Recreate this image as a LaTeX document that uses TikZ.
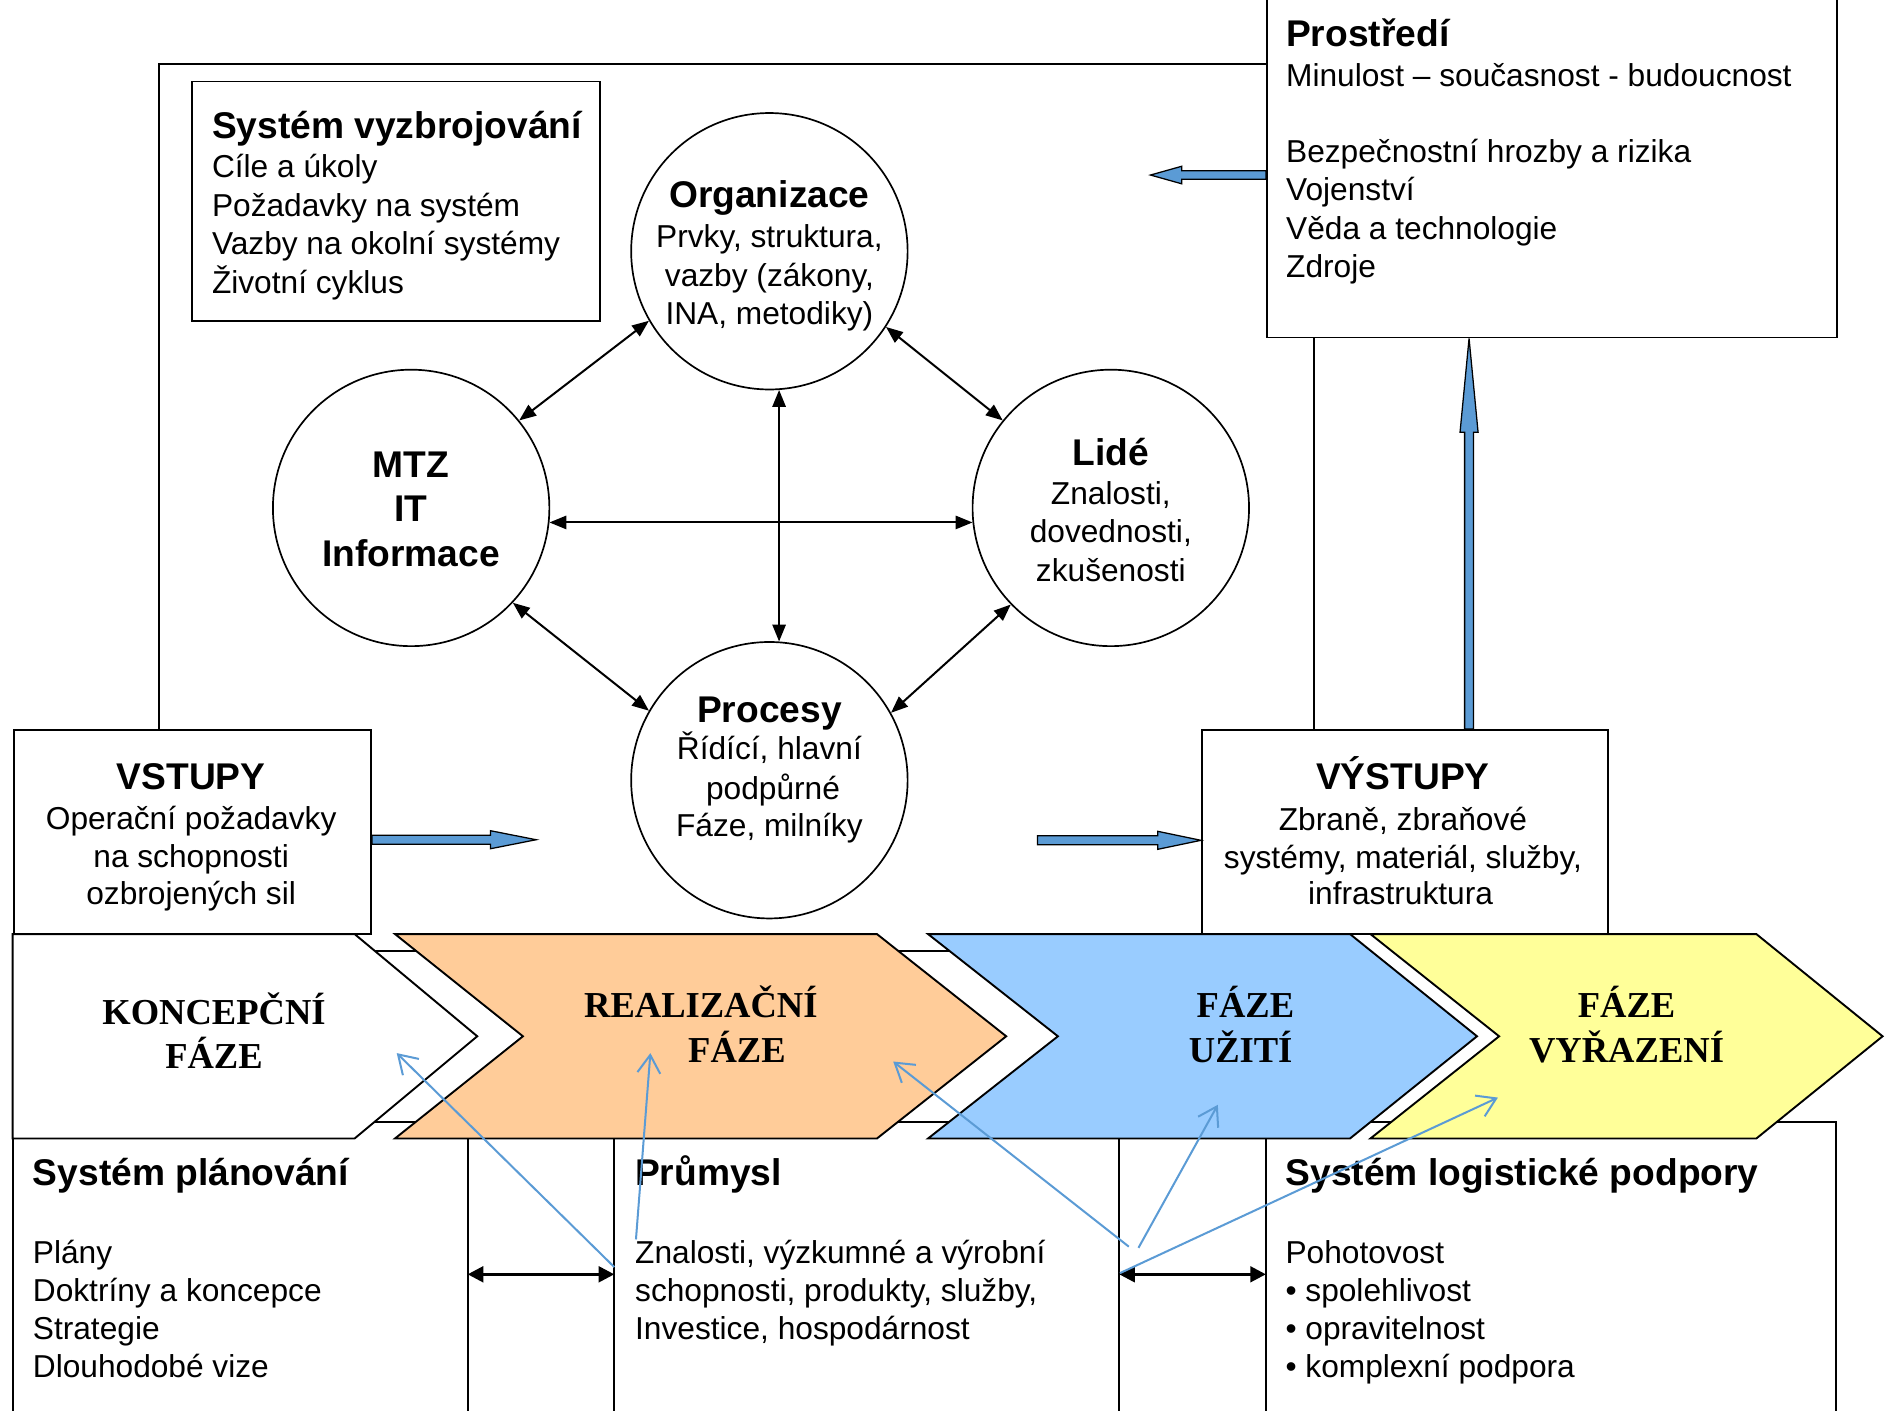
\documentclass[tikz,border=0pt]{standalone}
\usepackage{fontspec}
\setmainfont{Liberation Sans}
\newfontfamily\chevfont{Liberation Serif}
\usetikzlibrary{calc,arrows.meta}
\definecolor{arrowblue}{RGB}{91,155,213}
\definecolor{chevorange}{RGB}{255,204,153}
\definecolor{chevblue}{RGB}{153,204,255}
\definecolor{chevyellow}{RGB}{255,255,153}
\newcommand\blockarr[5]{%
  \coordinate (hb) at ($(#2)!#5!(#1)$);
  \filldraw[blockarrow] ($(#1)!#3!90:(#2)$) -- ($(hb)!#3!90:(#2)$) -- ($(hb)!#4!90:(#2)$) -- (#2) -- ($(hb)!#4!-90:(#2)$) -- ($(hb)!#3!-90:(#2)$) -- ($(#1)!#3!-90:(#2)$) -- cycle;}
\begin{document}
\begin{tikzpicture}[x=0.02cm, y=-0.02cm,
  boxline/.style={draw=black, line width=0.9pt},
  rbox/.style={draw=black, fill=white, line width=0.9pt, rectangle, inner sep=0pt, anchor=north west},
  circ/.style={circle, draw=black, fill=white, line width=0.8pt, minimum size=4.6cm, inner sep=0pt},
  body/.style={font=\fontsize{15}{18}\selectfont, inner sep=0pt},
  ttl/.style={font=\fontsize{17.6}{21}\selectfont\bfseries, inner sep=0pt},
  chevtxt/.style={font=\fontsize{17.3}{21}\selectfont\chevfont\bfseries, inner sep=0pt, anchor=base},
  chevron/.style={draw=black, line width=0.9pt, line join=miter},
  dbl/.style={{Triangle[length=0.28cm,width=0.22cm]}-{Triangle[length=0.28cm,width=0.22cm]}, line width=0.95pt},
  dblthick/.style={{Triangle[length=0.26cm,width=0.26cm]}-{Triangle[length=0.26cm,width=0.26cm]}, line width=1.4pt},
  thinarr/.style={draw=arrowblue, line width=0.95pt, -{Straight Barb[length=0.3cm,width=0.38cm]}},
  blockarrow/.style={draw=black, fill=arrowblue, line width=0.6pt},
]
\useasboundingbox (0,0) rectangle (1568,1173);
\clip (0,0) rectangle (1568,1173);

% boxes
\node[rbox, minimum width=6.78cm, minimum height=3.98cm] (vyz) at (159,67) {};
\node[rbox, minimum width=9.48cm, minimum height=5.8cm] (env) at (1053,-10) {};
\node[rbox, minimum width=5.95cm, minimum height=3.4cm] (vst) at (10.5,606.5) {};
\node[rbox, minimum width=6.76cm, minimum height=3.4cm] (vys) at (999,606.5) {};

% frame lines
\coordinate (fr1) at (132,53);
\coordinate (fr2) at (1093,0);
\draw[boxline] (vst.north -| fr1) -- (fr1) -- (fr1 -| env.west);
\draw[boxline] (env.south -| fr2) -- (vys.north -| fr2);

% band behind chevrons
\fill[white] (200,791) rectangle (1527,933);
\draw[boxline] (200,791) -- (1100,791);
\draw[boxline] (200,933) -- (1527,933) -- (1527,1180);

% chevrons
\filldraw[chevron, fill=white] (10.5,777) -- (295,777) -- (397,862) -- (295,947) -- (10.5,947) -- cycle;
\filldraw[chevron, fill=chevorange] (328.6,777) -- (729.5,777) -- (837,862) -- (729.5,947) -- (328.6,947) -- (435,862) -- cycle;
\filldraw[chevron, fill=chevblue] (772,777) -- (1123,777) -- (1228.6,862) -- (1123,947) -- (772,947) -- (880,862) -- cycle;
\filldraw[chevron, fill=chevyellow] (1140,777) -- (1461,777) -- (1566,862) -- (1461,947) -- (1140,947) -- (1247,862) -- cycle;

% bottom box lines
\draw[boxline] (10.5,947) -- (10.5,1180);
\draw[boxline] (389,947) -- (389,1180);
\draw[boxline] (511,947) -- (511,1180);
\draw[boxline] (931,947) -- (931,1180);
\draw[boxline] (1053,947) -- (1053,1180);

% circles
\node[circ] (org) at (640,209) {};
\node[circ] (mtz) at (342,422.5) {};
\node[circ] (lide) at (924,422.5) {};
\node[circ] (proc) at (640,649) {};

% circle arrows
\draw[dbl] (org.210) -- (mtz.39);
\draw[dbl] (org.-33) -- (lide.141);
\draw[dbl] (mtz.-43) -- (proc.150);
\draw[dbl] (lide.224.5) -- (proc.29.6);
\draw[dbl] (org.-86.5) -- (proc.86.5);
\draw[dbl] (mtz.-6.7) -- (lide.186.7);

% block arrows
\coordinate (ina) at (vst.east |- 0,698.5);
\coordinate (inb) at (446,698.5);
\blockarr{ina}{inb}{0.075cm}{0.15cm}{0.76cm}
\coordinate (outa) at (863,699);
\coordinate (outb) at (vys.west |- 0,699);
\blockarr{outa}{outb}{0.075cm}{0.15cm}{0.72cm}
\coordinate (upx) at (1222,0);
\coordinate (upa) at (vys.north -| upx);
\coordinate (upb) at (env.south -| upx);
\blockarr{upa}{upb}{0.074cm}{0.15cm}{1.56cm}
\coordinate (enva) at (env.west |- 0,145.6);
\coordinate (envb) at (957,145.6);
\blockarr{enva}{envb}{0.07cm}{0.146cm}{0.52cm}

% bottom black double arrows
\coordinate (dl1) at (389,1060);
\coordinate (dr1) at (511,1060);
\coordinate (dl2) at (931,1060);
\coordinate (dr2) at (1053,1060);
\draw[dblthick] (dl1) -- (dr1);
\draw[dblthick] (dl2) -- (dr2);

% texts: Systém vyzbrojování
\node[ttl, anchor=base west] (vyz1) at (176,115) {Systém vyzbrojování};
\node[body, anchor=base west] (vyz2) at (176,148) {Cíle a úkoly};
\node[body, anchor=base west] (vyz3) at (176,180) {Požadavky na systém};
\node[body, anchor=base west] (vyz4) at (176,212) {Vazby na okolní systémy};
\node[body, anchor=base west] (vyz5) at (176,244) {Životní cyklus};

% Prostředí
\node[ttl, anchor=base west] (env1) at (1069.5,38.5) {Prostředí};
\node[body, anchor=base west] (env2) at (1069.5,71.7) {Minulost – současnost - budoucnost};
\node[body, anchor=base west] (env3) at (1069.5,135) {Bezpečnostní hrozby a rizika};
\node[body, anchor=base west] (env4) at (1069.5,167) {Vojenství};
\node[body, anchor=base west] (env5) at (1069.5,199) {Věda a technologie};
\node[body, anchor=base west] (env6) at (1069.5,231) {Zdroje};

% circle texts
\node[ttl, anchor=base] (org1) at (640,173) {Organizace};
\node[body, anchor=base] (org2) at (640,206) {Prvky, struktura,};
\node[body, anchor=base] (org3) at (640,238) {vazby (zákony,};
\node[body, anchor=base] (org4) at (640,270) {INA, metodiky)};

\node[ttl, anchor=base] (mtz1) at (342,397) {MTZ};
\node[ttl, anchor=base] (mtz2) at (342,434) {IT};
\node[ttl, anchor=base] (mtz3) at (342,471) {Informace};

\node[ttl, anchor=base] (lid1) at (924,387) {Lidé};
\node[body, anchor=base] (lid2) at (924,420) {Znalosti,};
\node[body, anchor=base] (lid3) at (924,451.6) {dovednosti,};
\node[body, anchor=base] (lid4) at (924,483.4) {zkušenosti};

\node[ttl, anchor=base] (pro1) at (640,601) {Procesy};
\node[body, anchor=base] (pro2) at (640,632) {Řídící, hlavní};
\node[body, anchor=base] (pro3) at (643,665) {podpůrné};
\node[body, anchor=base] (pro4) at (640,696) {Fáze, milníky};

% VSTUPY / VÝSTUPY
\node[ttl, anchor=base] (vst1) at (159,656.5) {VSTUPY};
\node[body, anchor=base] (vst2) at (159,690) {Operační požadavky};
\node[body, anchor=base] (vst3) at (159,721.4) {na schopnosti};
\node[body, anchor=base] (vst4) at (159,752.4) {ozbrojených sil};

\node[ttl, anchor=base] (vys1) at (1167,657) {VÝSTUPY};
\node[body, anchor=base] (vys2) at (1167,690.5) {Zbraně, zbraňové};
\node[body, anchor=base] (vys3) at (1167,722.5) {systémy, materiál, služby,};
\node[body, anchor=base] (vys4) at (1165,752.5) {infrastruktura};

% chevron labels
\node[chevtxt] (ch1a) at (178,852.6) {KONCEPČNÍ};
\node[chevtxt] (ch1b) at (178,888.6) {FÁZE};
\node[chevtxt] (ch2a) at (583,846) {REALIZAČNÍ};
\node[chevtxt] (ch2b) at (613,883.6) {FÁZE};
\node[chevtxt] (ch3a) at (1036,846) {FÁZE};
\node[chevtxt] (ch3b) at (1032,883.6) {UŽITÍ};
\node[chevtxt] (ch4a) at (1353,846) {FÁZE};
\node[chevtxt] (ch4b) at (1353,883.6) {VYŘAZENÍ};

% bottom texts
\node[ttl, anchor=base west] (pl1) at (27,986) {Systém plánování};
\node[body, anchor=base west] (pl2) at (27,1051) {Plány};
\node[body, anchor=base west] (pl3) at (27,1082.5) {Doktríny a koncepce};
\node[body, anchor=base west] (pl4) at (27,1114) {Strategie};
\node[body, anchor=base west] (pl5) at (27,1146) {Dlouhodobé vize};

\node[ttl, anchor=base west] (pr1) at (528,986) {Průmysl};
\node[body, anchor=base west] (pr2) at (528,1051) {Znalosti, výzkumné a výrobní};
\node[body, anchor=base west] (pr3) at (528,1082.5) {schopnosti, produkty, služby,};
\node[body, anchor=base west] (pr4) at (528,1114) {Investice, hospodárnost};

\node[ttl, anchor=base west] (lg1) at (1069,986) {Systém logistické podpory};
\node[body, anchor=base west] (lg2) at (1069,1051) {Pohotovost};
\node[body, anchor=base west] (lg3) at (1069,1082.5) {• spolehlivost};
\node[body, anchor=base west] (lg4) at (1069,1114) {• opravitelnost};
\node[body, anchor=base west] (lg5) at (1069,1146) {• komplexní podpora};

% thin blue arrows
\coordinate (t1s) at (511,1054);
\coordinate (t1e) at (330,876);
\coordinate (t2s) at (529,1031);
\coordinate (t2e) at (541,876);
\coordinate (t3s) at (939,1037);
\coordinate (t3e) at (743,883);
\coordinate (t4s) at (947,1038);
\coordinate (t4e) at (1013,919);
\coordinate (t5s) at (931.6,1059);
\coordinate (t5e) at (1246,913);
\draw[thinarr] (t1s) -- (t1e);
\draw[thinarr] (t2s) -- (t2e);
\draw[thinarr] (t3s) -- (t3e);
\draw[thinarr] (t4s) -- (t4e);
\draw[thinarr] (t5s) -- (t5e);
\end{tikzpicture}
\end{document}
